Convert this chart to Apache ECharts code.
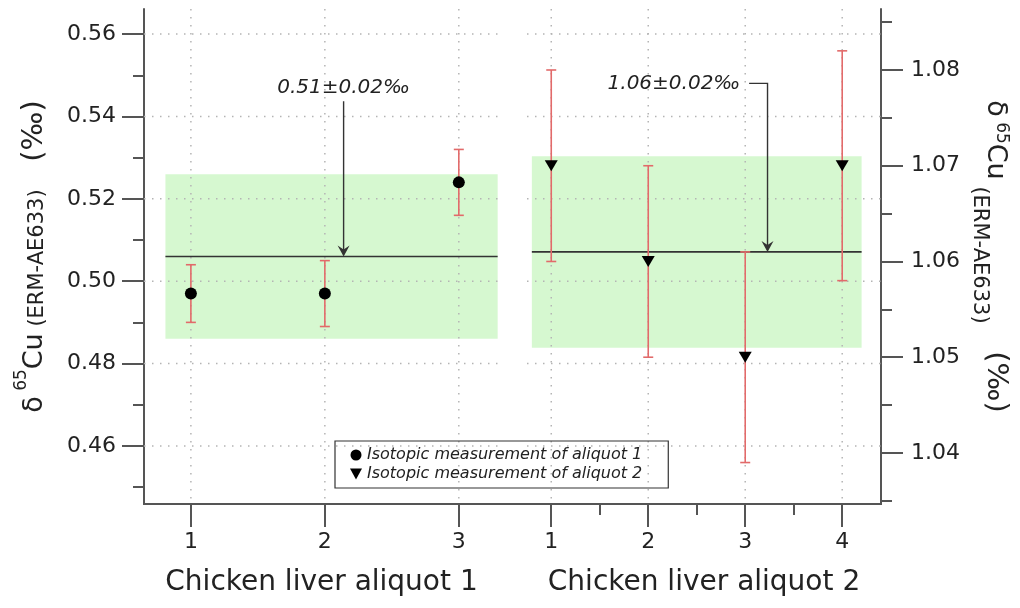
<!DOCTYPE html>
<html>
<head>
<meta charset="utf-8">
<script src="https://cdn.jsdelivr.net/npm/echarts@6/dist/echarts.min.js"></script>
<style>
  html, body { margin: 0; padding: 0; background: #fff; }
  #chart { width: 1020px; height: 608px; }
</style>
</head>
<body>
<div id="chart"></div>
<script>
// Aliquot 1 measurements (left axis)
const aliquot1X = [1, 2, 3];
const aliquot1Value = [0.497, 0.497, 0.524];
const aliquot1Low = [0.490, 0.489, 0.516];
const aliquot1High = [0.504, 0.505, 0.532];

// Aliquot 2 measurements (right axis)
const aliquot2X = [1, 2, 3, 4];
const aliquot2Value = [1.070, 1.060, 1.050, 1.070];
const aliquot2Low = [1.060, 1.050, 1.039, 1.058];
const aliquot2High = [1.080, 1.070, 1.061, 1.082];

// Mean of each aliquot and its uncertainty band
const mean1 = 0.506;
const band1 = [0.486, 0.526];
const bandSpan1 = [0.81, 3.29];
const mean2 = 1.061;
const band2 = [1.051, 1.071];
const bandSpan2 = [0.80, 4.20];
const meanLabels = ['0.51±0.02‰', '1.06±0.02‰'];

// Where the mean labels sit (axis units)
const note1 = { at: [2.14, 0.547], arrowFrom: [2.14, 0.5437] };
const note2 = { at: [2.95, 1.0786], elbow: [[3.04, 1.0786], [3.23, 1.0786]] };

// Ticks
const leftTicks = [0.46, 0.48, 0.50, 0.52, 0.54, 0.56];
const leftMinor = [0.45, 0.47, 0.49, 0.51, 0.53, 0.55];
const rightTicks = [1.04, 1.05, 1.06, 1.07, 1.08];
const rightMinor = [1.035, 1.045, 1.055, 1.065, 1.075, 1.085];
const xTicks1 = [1, 2, 3];
const xTicks2 = [1, 2, 3, 4];
const xMinor2 = [1.5, 2.5, 3.5];

const seriesNames = ['Isotopic measurement of aliquot 1', 'Isotopic measurement of aliquot 2'];
const axisTitles = ['Chicken liver aliquot 1', 'Chicken liver aliquot 2'];

const FONT = 'DejaVu Sans';
const INK = '#222';
const AXIS = '#555';
const BAR = '#e26a6a';
const TRI = 'path://M0,0L12,0L6,11Z';

// δ⁶⁵Cu (ERM-AE633) (‰) built from rich-text runs
const yName = '{a|δ}{b| 65}{a|Cu}{c| (ERM-AE633)}{d|   (‰)}';
const baseRich = {
  a: { fontSize: 27, fontFamily: FONT, color: INK },
  d: { fontSize: 29, fontFamily: FONT, color: INK }
};
const leftRich = Object.assign({}, baseRich, {
  b: { fontSize: 17, fontFamily: FONT, color: INK, padding: [0, 0, 26, 0] },
  c: { fontSize: 21, fontFamily: FONT, color: INK, padding: [6, 0, 0, 0] }
});
const rightRich = Object.assign({}, baseRich, {
  b: { fontSize: 17, fontFamily: FONT, color: INK, padding: [0, 0, 12, 0] },
  c: { fontSize: 21, fontFamily: FONT, color: INK, padding: [32, 0, 0, 0] }
});

function hGrid(params, api) {
  const cs = params.coordSys;
  const y = api.coord([0, api.value(0)])[1];
  return {
    type: 'line', silent: true,
    shape: { x1: cs.x, y1: y, x2: cs.x + cs.width, y2: y },
    style: { stroke: '#b4b4b4', lineWidth: 1.5, lineDash: [1.5, 6.5] }
  };
}
function vGrid(params, api) {
  const cs = params.coordSys;
  const x = api.coord([api.value(0), 0])[0];
  return {
    type: 'line', silent: true,
    shape: { x1: x, y1: cs.y, x2: x, y2: cs.y + cs.height },
    style: { stroke: '#b4b4b4', lineWidth: 1.5, lineDash: [1.5, 6.5] }
  };
}
function bandItem(params, api) {
  const p0 = api.coord([api.value(0), api.value(3)]);
  const p1 = api.coord([api.value(1), api.value(2)]);
  return {
    type: 'rect', shape: { x: p0[0], y: p0[1], width: p1[0] - p0[0], height: p1[1] - p0[1] },
    style: { fill: '#d6f8d0' }
  };
}
function meanItem(params, api) {
  const m0 = api.coord([api.value(0), api.value(2)]);
  const m1 = api.coord([api.value(1), api.value(2)]);
  return { type: 'line', shape: { x1: m0[0], y1: m0[1], x2: m1[0], y2: m1[1] },
    style: { stroke: '#333', lineWidth: 1.6 } };
}
function errorItem(params, api) {
  const x = api.value(0);
  const lo = api.coord([x, api.value(1)]);
  const hi = api.coord([x, api.value(2)]);
  const w = 5;
  const st = { stroke: BAR, lineWidth: 1.6 };
  return {
    type: 'group', children: [
      { type: 'line', shape: { x1: lo[0], y1: lo[1], x2: hi[0], y2: hi[1] }, style: st },
      { type: 'line', shape: { x1: lo[0] - w, y1: lo[1], x2: lo[0] + w, y2: lo[1] }, style: st },
      { type: 'line', shape: { x1: hi[0] - w, y1: hi[1], x2: hi[0] + w, y2: hi[1] }, style: st }
    ]
  };
}
function arrowHead(tip) {
  return { type: 'polygon',
    shape: { points: [[tip[0], tip[1]], [tip[0] - 6, tip[1] - 11], [tip[0], tip[1] - 7], [tip[0] + 6, tip[1] - 11]] },
    style: { fill: '#333' } };
}
function note1Item(params, api) {
  const t = api.coord(note1.at);
  const a = api.coord(note1.arrowFrom);
  const b = api.coord([note1.arrowFrom[0], mean1]);
  return { type: 'group', children: [
    { type: 'text', x: t[0], y: t[1], style: { text: meanLabels[0], fontSize: 20, fontStyle: 'italic',
      fontFamily: FONT, fill: INK, align: 'center', verticalAlign: 'middle' } },
    { type: 'line', shape: { x1: a[0], y1: a[1], x2: b[0], y2: b[1] - 2 }, style: { stroke: '#333', lineWidth: 1.4 } },
    arrowHead(b)
  ] };
}
function note2Item(params, api) {
  const t = api.coord(note2.at);
  const e0 = api.coord(note2.elbow[0]);
  const e1 = api.coord(note2.elbow[1]);
  const b = api.coord([note2.elbow[1][0], mean2]);
  return { type: 'group', children: [
    { type: 'text', x: t[0], y: t[1], style: { text: meanLabels[1], fontSize: 20, fontStyle: 'italic',
      fontFamily: FONT, fill: INK, align: 'right', verticalAlign: 'middle' } },
    { type: 'polyline', shape: { points: [e0, e1, [b[0], b[1] - 2]] }, style: { stroke: '#333', lineWidth: 1.4, fill: 'none' } },
    arrowHead(b)
  ] };
}

const tickLine = { color: AXIS, width: 2 };
const labelStyle = { fontSize: 22, fontFamily: FONT, color: INK };
const titleStyle = { fontSize: 28, fontFamily: FONT, color: INK };

const option = {
  backgroundColor: '#fff',
  animation: false,
  textStyle: { fontFamily: FONT },
  grid: [
    { left: 144, top: 9, width: 355, height: 495, outerBoundsMode: 'none' },
    { left: 527, top: 9, width: 354, height: 495, outerBoundsMode: 'none' },
    { left: 144, top: 9, width: 737, height: 495, outerBoundsMode: 'none' }
  ],
  legend: {
    orient: 'vertical', left: 335, top: 441,
    borderColor: '#333', borderWidth: 1.2, borderRadius: 0,
    padding: [6, 26, 6, 15], itemGap: 3, itemWidth: 12, itemHeight: 11,
    textStyle: { fontSize: 16, fontStyle: 'italic', fontFamily: FONT, color: INK },
    data: [
      { name: seriesNames[0], icon: 'circle' },
      { name: seriesNames[1], icon: TRI }
    ]
  },
  xAxis: [
    { gridIndex: 0, type: 'value', min: 0.65, max: 3.3, position: 'bottom',
      axisLine: { show: true, lineStyle: tickLine },
      axisTick: { show: true, customValues: xTicks1, length: 23, lineStyle: tickLine },
      axisLabel: { customValues: xTicks1, margin: 27, ...labelStyle, formatter: v => String(v) },
      splitLine: { show: false },
      name: axisTitles[0], nameLocation: 'middle', nameGap: 65, nameTextStyle: titleStyle },
    { gridIndex: 1, type: 'value', min: 0.75, max: 4.4, position: 'bottom',
      axisLine: { show: true, lineStyle: tickLine },
      axisTick: { show: true, customValues: xTicks2, length: 23, lineStyle: tickLine },
      axisLabel: { customValues: xTicks2, margin: 27, ...labelStyle, formatter: v => String(v) },
      splitLine: { show: false },
      name: axisTitles[1], nameLocation: 'middle', nameGap: 65, nameTextStyle: titleStyle },
    { gridIndex: 1, type: 'value', min: 0.75, max: 4.4, position: 'bottom',
      axisLine: { show: false },
      axisTick: { show: true, customValues: xMinor2, length: 11, lineStyle: tickLine },
      axisLabel: { show: false }, splitLine: { show: false } },
    { gridIndex: 2, type: 'value', min: 0, max: 1, position: 'top',
      axisLine: { show: true, lineStyle: tickLine },
      axisTick: { show: false }, axisLabel: { show: false }, splitLine: { show: false } }
  ],
  yAxis: [
    { gridIndex: 0, type: 'value', min: 0.4459, max: 0.5661, position: 'left',
      axisLine: { show: true, lineStyle: tickLine },
      axisTick: { show: true, customValues: leftTicks, length: 22, lineStyle: tickLine },
      axisLabel: { customValues: leftTicks, margin: 28, ...labelStyle, formatter: v => v.toFixed(2) },
      splitLine: { show: false },
      name: yName, nameLocation: 'middle', nameRotate: 90, nameGap: 88,
      nameTextStyle: { rich: leftRich } },
    { gridIndex: 0, type: 'value', min: 0.4459, max: 0.5661, position: 'left',
      axisLine: { show: false },
      axisTick: { show: true, customValues: leftMinor, length: 11, lineStyle: tickLine },
      axisLabel: { show: false }, splitLine: { show: false } },
    { gridIndex: 1, type: 'value', min: 1.03467, max: 1.08637, position: 'right',
      axisLine: { show: true, lineStyle: tickLine },
      axisTick: { show: true, customValues: rightTicks, length: 22, lineStyle: tickLine },
      axisLabel: { customValues: rightTicks, margin: 30, ...labelStyle, formatter: v => v.toFixed(2) },
      splitLine: { show: false },
      name: yName, nameLocation: 'middle', nameRotate: -90, nameGap: 88,
      nameTextStyle: { rich: rightRich } },
    { gridIndex: 1, type: 'value', min: 1.03467, max: 1.08637, position: 'right',
      axisLine: { show: false },
      axisTick: { show: true, customValues: rightMinor, length: 11, lineStyle: tickLine },
      axisLabel: { show: false }, splitLine: { show: false } },
    { gridIndex: 1, type: 'value', min: 0.4459, max: 0.5661, show: false },
    { gridIndex: 2, type: 'value', min: 0, max: 1, show: false }
  ],
  series: [
    // uncertainty bands
    { type: 'custom', xAxisIndex: 0, yAxisIndex: 0, z: 1, silent: true, renderItem: bandItem,
      data: [[bandSpan1[0], bandSpan1[1], band1[0], band1[1]]] },
    { type: 'custom', xAxisIndex: 1, yAxisIndex: 2, z: 1, silent: true, renderItem: bandItem,
      data: [[bandSpan2[0], bandSpan2[1], band2[0], band2[1]]] },
    // dotted grid
    { type: 'custom', xAxisIndex: 0, yAxisIndex: 0, z: 2, silent: true, renderItem: hGrid,
      data: leftTicks.map(v => [v]) },
    { type: 'custom', xAxisIndex: 1, yAxisIndex: 4, z: 2, silent: true, renderItem: hGrid,
      data: leftTicks.map(v => [v]) },
    { type: 'custom', xAxisIndex: 0, yAxisIndex: 0, z: 2, silent: true, renderItem: vGrid,
      data: xTicks1.map(v => [v]) },
    { type: 'custom', xAxisIndex: 1, yAxisIndex: 2, z: 2, silent: true, renderItem: vGrid,
      data: xTicks2.map(v => [v]) },
    // mean lines
    { type: 'custom', xAxisIndex: 0, yAxisIndex: 0, z: 3, silent: true, renderItem: meanItem,
      data: [[bandSpan1[0], bandSpan1[1], mean1]] },
    { type: 'custom', xAxisIndex: 1, yAxisIndex: 2, z: 3, silent: true, renderItem: meanItem,
      data: [[bandSpan2[0], bandSpan2[1], mean2]] },
    // error bars
    { type: 'custom', xAxisIndex: 0, yAxisIndex: 0, z: 4, silent: true, renderItem: errorItem,
      data: aliquot1X.map((x, i) => [x, aliquot1Low[i], aliquot1High[i]]) },
    { type: 'custom', xAxisIndex: 1, yAxisIndex: 2, z: 4, silent: true, renderItem: errorItem,
      data: aliquot2X.map((x, i) => [x, aliquot2Low[i], aliquot2High[i]]) },
    // measurements
    { name: seriesNames[0], type: 'scatter', xAxisIndex: 0, yAxisIndex: 0, z: 5,
      symbol: 'circle', symbolSize: 12, itemStyle: { color: '#000', opacity: 1 },
      data: aliquot1X.map((x, i) => [x, aliquot1Value[i]]) },
    { name: seriesNames[1], type: 'scatter', xAxisIndex: 1, yAxisIndex: 2, z: 5,
      symbol: TRI, symbolSize: [13, 11], itemStyle: { color: '#000', opacity: 1 },
      data: aliquot2X.map((x, i) => [x, aliquot2Value[i]]) },
    // mean labels with arrows
    { type: 'custom', xAxisIndex: 0, yAxisIndex: 0, z: 6, silent: true, renderItem: note1Item, data: [[0]] },
    { type: 'custom', xAxisIndex: 1, yAxisIndex: 2, z: 6, silent: true, renderItem: note2Item, data: [[0]] }
  ]
};

const chart = echarts.init(document.getElementById('chart'), null, { renderer: 'canvas' });
chart.setOption(option);
</script>
</body>
</html>
